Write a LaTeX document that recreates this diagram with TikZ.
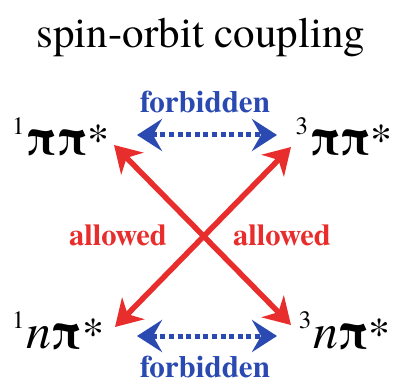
\documentclass[tikz,border=0pt]{standalone}
\usepackage{fontspec}
\usepackage{graphicx}
\setmainfont{texgyretermes}[Extension=.otf,UprightFont=*-regular,BoldFont=*-bold,ItalicFont=*-italic,BoldItalicFont=*-bolditalic]
\usetikzlibrary{arrows.meta}
\definecolor{myred}{RGB}{232,46,44}
\definecolor{myblue}{RGB}{42,74,178}
\newcommand{\spn}[1]{\raisebox{20pt}{\fontsize{25}{25}\selectfont #1}\hspace{2pt}}
\newcommand{\pib}{\scalebox{0.9}[1]{\textbf{π}}}
\newcommand{\stary}{{\fontsize{44}{44}\selectfont *}}
\begin{document}
\begin{tikzpicture}[x=1pt,y=-1pt,
  statel/.style={anchor=base west,inner sep=0pt,font=\fontsize{50}{50}\selectfont},
  stater/.style={anchor=base east,inner sep=0pt,font=\fontsize{50}{50}\selectfont},
  forbid/.style={anchor=base,inner sep=0pt,text=myblue,font=\bfseries\fontsize{31}{31}\selectfont},
  allow/.style={anchor=base,inner sep=0pt,text=myred,font=\bfseries\fontsize{30.5}{30.5}\selectfont},
  bluearrow/.style={myblue,line width=5pt,dash pattern=on 5pt off 3.6pt,
    {Stealth[length=25pt,width=32pt,inset=9pt]}-{Stealth[length=25pt,width=32pt,inset=9pt]}},
  redarrow/.style={myred,line width=5.5pt,
    {Stealth[length=26pt,width=31pt,inset=8pt]}-{Stealth[length=26pt,width=31pt,inset=8pt]}}]
\useasboundingbox (0,0) rectangle (393,382);
\node[anchor=base,inner sep=0pt,font=\fontsize{43}{43}\selectfont] (title) at (201,48) {spin-orbit coupling};
\node[statel] (pp1) at (12,155) {\spn{1}\pib\pib\stary};
\node[stater] (pp3) at (393,155) {\spn{3}\pib\pib\stary};
\node[statel] (np1) at (12,348) {\spn{1}\textit{n}\pib\stary};
\node[stater] (np3) at (391,348) {\spn{3}\textit{n}\pib\stary};
\coordinate (bt1) at (137,135);
\coordinate (bt3) at (277,135);
\coordinate (bb1) at (137,336);
\coordinate (bb3) at (277,336);
\coordinate (rtl) at (114,145);
\coordinate (rtr) at (291,147);
\coordinate (rbl) at (115,327);
\coordinate (rbr) at (291,325);
\draw[bluearrow] (bt1) -- (bt3);
\draw[bluearrow] (bb1) -- (bb3);
\draw[redarrow] (rtl) -- (rbr);
\draw[redarrow] (rtr) -- (rbl);
\node[forbid] (f1) at (205,113) {forbidden};
\node[forbid] (f2) at (205,377) {forbidden};
\node[allow] (a1) at (118,245) {allowed};
\node[allow] (a2) at (282,245) {allowed};
\end{tikzpicture}
\end{document}
